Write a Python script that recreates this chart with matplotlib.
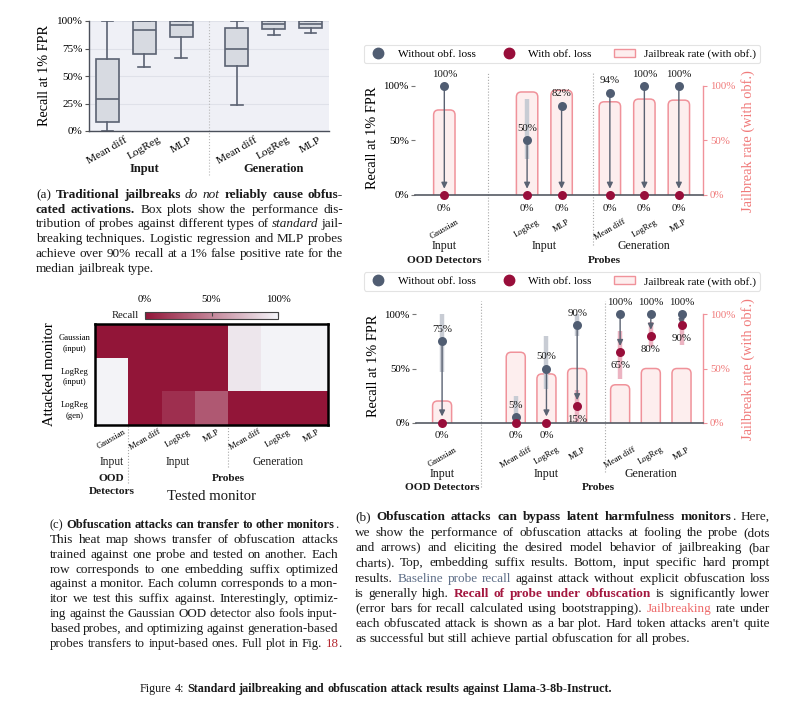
import matplotlib
matplotlib.use('Agg')
import matplotlib.pyplot as plt
import numpy as np
from matplotlib.patches import FancyBboxPatch, Patch
from matplotlib.colors import LinearSegmentedColormap
from matplotlib.lines import Line2D
from matplotlib.font_manager import FontProperties

plt.rcParams['font.family'] = ['Liberation Serif', 'DejaVu Serif']
plt.rcParams['axes.unicode_minus'] = False

W, H = 800, 710
fig = plt.figure(figsize=(W / 100, H / 100), dpi=100)
fig.patch.set_facecolor('white')

# ---------------- data ----------------
box_groups = ['Input', 'Generation']
box_probes = ['Mean diff', 'LogReg', 'MLP']
box_whislo = [0, 58, 66, 23.5, 87, 89.5]
box_q1 = [8, 70, 85, 59, 92.5, 93.5]
box_med = [29, 92, 96, 75, 97, 97]
box_q3 = [65.5, 100, 100, 93.5, 100, 100]
box_whishi = [100, 100, 100, 100, 100, 100]

heat_rows = ['Gaussian\n(input)', 'LogReg\n(input)', 'LogReg\n(gen)']
heat_cols = ['Gaussian', 'Mean diff', 'LogReg', 'MLP', 'Mean diff', 'LogReg', 'MLP']
heat_recall = [[0, 0, 0, 0, 93, 99, 99],
               [99, 0, 0, 0, 93, 99, 99],
               [99, 0, 12, 30, 0, 0, 0]]

panel_groups = [('Input', 'OOD Detectors'), ('Input', 'Probes'), ('Generation', 'Probes')]

top_labels = ['Gaussian', 'LogReg', 'MLP', 'Mean diff', 'LogReg', 'MLP']
top_group_sizes = [1, 2, 3]
top_without = [100, 50, 82, 94, 100, 100]
top_without_lo = [100, 33, 82, 94, 100, 100]
top_without_hi = [100, 88, 82, 94, 100, 100]
top_with = [0, 0, 0, 0, 0, 0]
top_with_lo = [0, 0, 0, 0, 0, 0]
top_with_hi = [0, 0, 0, 0, 0, 0]
top_jailbreak = [78, 94.5, 96, 85.5, 88, 87]

bot_labels = ['Gaussian', 'Mean diff', 'LogReg', 'MLP', 'Mean diff', 'LogReg', 'MLP']
bot_group_sizes = [1, 3, 3]
bot_without = [75, 5, 50, 90, 100, 100, 100]
bot_without_lo = [47, 0, 31, 80, 100, 100, 100]
bot_without_hi = [100, 25, 80, 100, 100, 100, 100]
bot_with = [0, 0, 0, 15, 65, 80, 90]
bot_with_lo = [0, 0, 0, 0, 40, 70, 72]
bot_with_hi = [0, 0, 0, 30, 85, 93, 100]
bot_jailbreak = [20, 65, 45, 50, 35, 50, 50]

# ---------------- styles ----------------
C_GRAY = '#505d72'
C_RED = '#980e3a'
C_ARROW = '#5a6272'
C_BAR_FC = '#fdeeee'
C_BAR_EC = '#f0929a'
C_PINK = '#f07a7a'
C_ERR_G = '#c8ccd4'
C_ERR_R = '#ecb4c2'
C_TXT = '#1a1a1a'
C_DIV = '#a8a8a8'


def fx(x):
    return x / W


def fy(y):
    return 1 - y / H


def axrect(x0, y0, x1, y1):
    return [x0 / W, 1 - y1 / H, (x1 - x0) / W, (y1 - y0) / H]


# ================= (a) box plot =================
axb = fig.add_axes(axrect(89, 21, 329, 131))
axb.set_facecolor('#eff0f6')
bpos = []
for gi, g in enumerate(box_groups):
    for k in range(len(box_probes)):
        bpos.append(gi * 3.5 + k)
stats = [dict(whislo=a, q1=b, med=c, q3=d, whishi=e, fliers=[])
         for a, b, c, d, e in zip(box_whislo, box_q1, box_med, box_q3, box_whishi)]
bc = '#5b6272'
axb.bxp(stats, positions=bpos, widths=0.62, patch_artist=True, showfliers=False,
        capwidths=0.32,
        boxprops=dict(facecolor='#d7dae1', edgecolor=bc, linewidth=1.2),
        medianprops=dict(color=bc, linewidth=1.2),
        whiskerprops=dict(color=bc, linewidth=1.2),
        capprops=dict(color=bc, linewidth=1.2))
axb.set_xlim(-0.5, 6.0)
axb.set_ylim(0, 100)
axb.set_yticks([0, 25, 50, 75, 100])
axb.set_yticklabels([f'{v}%' for v in [0, 25, 50, 75, 100]], fontsize=8)
axb.set_xticks(bpos)
axb.set_xticklabels(box_probes * 2, rotation=30, ha='center', fontsize=8.2)
axb.tick_params(axis='x', length=0, pad=3)
axb.tick_params(axis='y', length=3, color='#555', pad=1.5)
axb.grid(axis='y', color='#dfe1e9', lw=0.8)
axb.set_axisbelow(True)
for s in ['top', 'right']:
    axb.spines[s].set_visible(False)
for s in ['left', 'bottom']:
    axb.spines[s].set_color('#4a4f5a')
    axb.spines[s].set_linewidth(1.0)
axb.set_ylabel('Recall at 1% FPR', fontsize=10.2)
axb.yaxis.set_label_coords(-0.16, 0.5)
trb = axb.get_xaxis_transform()
axb.plot([2.75, 2.75], [-0.4, 1.0], transform=trb, ls=':', color='#b8b8b8', lw=0.8, clip_on=False)
for gi, g in enumerate(box_groups):
    axb.text(gi * 3.5 + 1, -0.345, g, transform=trb, ha='center', va='center',
             fontsize=9, fontweight='bold', color=C_TXT)

# ================= (c) heat map =================
axh = fig.add_axes(axrect(95, 324, 328, 425))
cmap = LinearSegmentedColormap.from_list('recall', ['#921538', '#f4f5f9'])
hv = np.array(heat_recall, dtype=float)
mesh = axh.pcolormesh(np.arange(len(heat_cols) + 1), np.arange(len(heat_rows) + 1), hv,
                      cmap=cmap, vmin=0, vmax=100)
axh.set_xlim(0, len(heat_cols))
axh.set_ylim(len(heat_rows), 0)
axh.set_yticks(np.arange(len(heat_rows)) + 0.5)
axh.set_yticklabels(heat_rows, fontsize=6.2, ha='center', linespacing=1.45)
axh.tick_params(axis='y', length=0, pad=15)
axh.set_xticks(np.arange(len(heat_cols)) + 0.5)
axh.set_xticklabels(heat_cols, rotation=30, ha='center', fontsize=6.2)
axh.tick_params(axis='x', length=0, pad=2)
for s in axh.spines.values():
    s.set_color('black')
    s.set_linewidth(1.8)
axh.set_ylabel('Attacked monitor', fontsize=10.6)
axh.yaxis.set_label_coords(-0.167, 0.5)
trh = axh.get_xaxis_transform()
axh.plot([1, 1], [-0.574, 0], transform=trh, ls=':', color=C_DIV, lw=0.8, clip_on=False)
axh.plot([4, 4], [-0.416, 0], transform=trh, ls=':', color=C_DIV, lw=0.8, clip_on=False)
hgroup_x = [0.5, 2.5, 5.5]
for (g, big), gx in zip(panel_groups, hgroup_x):
    axh.text(gx, -0.363, g, transform=trh, ha='center', va='center', fontsize=8.3, color=C_TXT)
axh.text(0.5, -0.528, 'OOD', transform=trh, ha='center', va='center', fontsize=8.2,
         fontweight='bold', color=C_TXT)
axh.text(0.5, -0.66, 'Detectors', transform=trh, ha='center', va='center', fontsize=8.2,
         fontweight='bold', color=C_TXT)
axh.text(4.0, -0.528, 'Probes', transform=trh, ha='center', va='center', fontsize=8.2,
         fontweight='bold', color=C_TXT)
axh.text(3.5, -0.71, 'Tested monitor', transform=trh, ha='center', va='center',
         fontsize=10.6, color=C_TXT)

cax = fig.add_axes(axrect(145, 312, 278, 319))
cb = fig.colorbar(mesh, cax=cax, orientation='horizontal', ticks=[0, 50, 100])
cax.xaxis.set_ticks_position('top')
cax.set_xticklabels(['0%', '50%', '100%'], fontsize=7.7)
cax.tick_params(direction='in', length=3, width=0.8, pad=6, color='#444')
cb.outline.set_linewidth(0.8)
cb.outline.set_edgecolor('#444')
fig.text(fx(139), fy(315), 'Recall', ha='right', va='center', fontsize=7.7, color=C_TXT)


# ================= (b) recall panels =================
GAPS = [2.4, 1.4]


def recall_panel(rect_px, labels, sizes, without, wlo, whi, withv, clo, chi, jb, leg_px):
    pos = []
    for gi, n in enumerate(sizes):
        start = 0.0 if gi == 0 else pos[-1] + GAPS[gi - 1]
        for k in range(n):
            pos.append(start + k)
    pos = np.array(pos)
    ax = fig.add_axes(axrect(*rect_px))
    ax2 = ax.twinx()
    ax.set_zorder(ax2.get_zorder() + 1)
    ax.patch.set_visible(False)
    xl = (-0.85, pos[-1] + 0.7)
    yl = (0, 112)
    for a in (ax, ax2):
        a.set_xlim(*xl)
        a.set_ylim(*yl)
    wpx = rect_px[2] - rect_px[0]
    hpx = rect_px[3] - rect_px[1]
    px_x = wpx / (xl[1] - xl[0])
    px_y = hpx / (yl[1] - yl[0])
    asp = px_x / px_y
    r = 5.0 / px_x
    bw = 0.62
    for x, h in zip(pos, jb):
        p = FancyBboxPatch((x - bw / 2, -r * asp), bw, h + r * asp,
                           boxstyle=f'round,pad=0,rounding_size={r}',
                           mutation_aspect=asp, facecolor=C_BAR_FC,
                           edgecolor=C_BAR_EC, linewidth=1.1, clip_on=True)
        ax2.add_patch(p)
    for x, lo, hi in zip(pos, wlo, whi):
        if hi > lo:
            ax.plot([x, x], [lo, hi], color=C_ERR_G, lw=3.2, solid_capstyle='butt', zorder=2)
    for x, lo, hi in zip(pos, clo, chi):
        if hi > lo:
            ax.plot([x, x], [lo, hi], color=C_ERR_R, lw=3.2, solid_capstyle='butt', zorder=2)
    for x, a, b in zip(pos, without, withv):
        if a - b > 0.5:
            ax.annotate('', xy=(x, b), xytext=(x, a),
                        arrowprops=dict(arrowstyle='-|>,head_length=0.35,head_width=0.17',
                                        color=C_ARROW, lw=1.0, shrinkA=3.5, shrinkB=4.5),
                        zorder=3)
    ax.scatter(pos, without, s=42, color=C_GRAY, zorder=5, clip_on=False, linewidths=0)
    ax.scatter(pos, withv, s=42, color=C_RED, zorder=6, clip_on=False, linewidths=0)
    for x, v in zip(pos, without):
        ax.annotate(f'{v:g}%', (x, v), xytext=(0, 8.6), textcoords='offset points',
                    ha='center', va='center', fontsize=7.8, color=C_TXT, zorder=7)
    for x, v in zip(pos, withv):
        ax.annotate(f'{v:g}%', (x, v), xytext=(0, -9.4), textcoords='offset points',
                    ha='center', va='center', fontsize=7.8, color=C_TXT, zorder=7,
                    annotation_clip=False)
    for s in ['top', 'left', 'right']:
        ax.spines[s].set_visible(False)
    ax.spines['bottom'].set_color('#555a63')
    ax.spines['bottom'].set_linewidth(1.2)
    for s in ['top', 'left', 'bottom']:
        ax2.spines[s].set_visible(False)
    ax2.spines['right'].set_color(C_BAR_EC)
    ax2.spines['right'].set_linewidth(1.0)
    ax2.spines['right'].set_bounds(0, 100)
    ax.set_yticks([0, 50, 100])
    ax.set_yticklabels(['0%', '50%', '100%'], fontsize=7.8)
    ax.tick_params(axis='y', length=3, color='#777', pad=1.5)
    ax2.set_yticks([0, 50, 100])
    ax2.set_yticklabels(['0%', '50%', '100%'], fontsize=7.8, color=C_PINK)
    ax2.tick_params(axis='y', length=3, color=C_BAR_EC, pad=2)
    ax.set_xticks(pos)
    ax.set_xticklabels(labels, rotation=30, ha='center', fontsize=6.2)
    ax.tick_params(axis='x', length=0, pad=16.5)
    ax.set_ylabel('Recall at 1% FPR', fontsize=10.4)
    ax.yaxis.set_label_coords(-0.124, 0.47)
    ax2.set_ylabel('Jailbreak rate (with obf.)', fontsize=10.4, color=C_PINK)
    ax2.yaxis.set_label_coords(1.132, 0.44)
    tr = ax.get_xaxis_transform()
    first_probe = pos[sizes[0]]
    first_gen = pos[sizes[0] + sizes[1]]
    ax.plot([first_probe - 1.12] * 2, [-0.53, 1.0], transform=tr, ls=':', color=C_DIV,
            lw=0.8, clip_on=False)
    ax.plot([first_gen - 0.48] * 2, [-0.41, 1.0], transform=tr, ls=':', color=C_DIV,
            lw=0.8, clip_on=False)
    idx = 0
    for (g, big), n in zip(panel_groups, sizes):
        gp = pos[idx:idx + n]
        ax.text(gp.mean(), -0.42, g, transform=tr, ha='center', va='center',
                fontsize=8.6, color=C_TXT)
        idx += n
    ax.text(pos[:sizes[0]].mean(), -0.535, 'OOD Detectors', transform=tr, ha='center',
            va='center', fontsize=8.2, fontweight='bold', color=C_TXT)
    ax.text(pos[sizes[0]:].mean(), -0.535, 'Probes', transform=tr, ha='center',
            va='center', fontsize=8.2, fontweight='bold', color=C_TXT)
    handles = [Line2D([], [], marker='o', ls='', color=C_GRAY, markersize=7.5),
               Line2D([], [], marker='o', ls='', color=C_RED, markersize=7.5),
               Patch(facecolor=C_BAR_FC, edgecolor=C_BAR_EC, linewidth=1.0)]
    names = ['Without obf. loss', 'With obf. loss', 'Jailbreak rate (with obf.)']
    lx0, ly0, lx1, ly1 = leg_px
    leg = fig.legend(handles, names, loc='center', ncol=3, mode='expand',
                     bbox_to_anchor=(fx(lx0), fy(ly1), (lx1 - lx0) / W, (ly1 - ly0) / H),
                     fontsize=8.2, frameon=True, borderaxespad=0, handlelength=1.8,
                     handletextpad=0.8, borderpad=0.35, fancybox=True)
    leg.get_frame().set_edgecolor('#dcdcdc')
    leg.get_frame().set_linewidth(0.8)
    return ax


recall_panel((415, 72.9, 703, 195), top_labels, top_group_sizes, top_without,
             top_without_lo, top_without_hi, top_with, top_with_lo, top_with_hi,
             top_jailbreak, (364, 45, 760, 63))
recall_panel((416, 301.3, 703, 422.7), bot_labels, bot_group_sizes, bot_without,
             bot_without_lo, bot_without_hi, bot_with, bot_with_lo, bot_with_hi,
             bot_jailbreak, (364, 272, 760, 291))

# ================= captions (word by word, justified) =================
renderer = fig.canvas.get_renderer()
CAP_FAMILY = 'Liberation Serif'


def fprops(st, size):
    return FontProperties(family=CAP_FAMILY, size=size,
                          weight='bold' if 'b' in st else 'normal',
                          style='italic' if 'i' in st else 'normal')


def adv_width(word, st, size):
    fp = fprops(st, size)
    w1, _, _ = renderer.get_text_width_height_descent('x' + word + 'x', fp, ismath=False)
    w0, _, _ = renderer.get_text_width_height_descent('xx', fp, ismath=False)
    return w1 - w0


def tokenize(segs):
    tokens = []
    pend = False
    for seg in segs:
        text, st = seg[0], seg[1]
        col = seg[2] if len(seg) > 2 else C_TXT
        parts = text.split(' ')
        for k, p in enumerate(parts):
            if k > 0:
                pend = True
            if p:
                tokens.append((p, st, col, pend and len(tokens) > 0))
                pend = False
    return tokens


def draw_para(lines, x0, x1, baseline0, step, size, justify_last=False):
    target = x1 - x0
    for i, segs in enumerate(lines):
        yb = round(baseline0 + i * step)
        justify = (i < len(lines) - 1) or justify_last
        tokens = tokenize(segs)
        ngaps = sum(1 for tk in tokens if tk[3])
        s = size
        for _ in range(4):
            widths = [adv_width(p, st, s) for p, st, col, sp in tokens]
            min_space = 0.2 * s * 100 / 72
            natural = sum(widths) + ngaps * min_space
            if natural <= target + 0.5:
                break
            s = s * target / natural * 0.998
        space = 0.25 * s * 100 / 72
        if justify and ngaps:
            space = (target - sum(widths)) / ngaps
        x = x0
        for (p, st, col, sp), w in zip(tokens, widths):
            if sp:
                x += space
            fig.text(fx(x), fy(yb), p, fontproperties=fprops(st, s), color=col,
                     va='baseline', ha='left')
            x += w


CAP = 9.5
cap_a = [
    [('(a) ', 'n'), ('Traditional jailbreaks ', 'b'), ('do not', 'i'), (' reliably cause obfus-', 'b')],
    [('cated activations.', 'b'), (' Box plots show the performance dis-', 'n')],
    [('tribution of probes against different types of ', 'n'), ('standard', 'i'), (' jail-', 'n')],
    [('breaking techniques. Logistic regression and MLP probes', 'n')],
    [('achieve over 90% recall at a 1% false positive rate for the', 'n')],
    [('median jailbreak type.', 'n')],
]
draw_para(cap_a, 36, 343, 197.8, 14.8, CAP)

cap_c = [
    [('(c) ', 'n'), ('Obfuscation attacks can transfer to other monitors', 'b'), ('.', 'n')],
    [('This heat map shows transfer of obfuscation attacks', 'n')],
    [('trained against one probe and tested on another. Each', 'n')],
    [('row corresponds to one embedding suffix optimized', 'n')],
    [('against a monitor. Each column corresponds to a mon-', 'n')],
    [('itor we test this suffix against.  Interestingly, optimiz-', 'n')],
    [('ing against the Gaussian OOD detector also fools input-', 'n')],
    [('based probes, and optimizing against generation-based', 'n')],
    [('probes transfers to input-based ones. Full plot in Fig. ', 'n'), ('18', 'n', '#b3262e'), ('.', 'n')],
]
draw_para(cap_c, 50, 338, 528.2, 14.8, CAP)

cap_b = [
    [('(b) ', 'n'), ('Obfuscation attacks can bypass latent harmfulness monitors', 'b'), ('.  Here,', 'n')],
    [('we show the performance of obfuscation attacks at fooling the probe (dots', 'n')],
    [('and arrows) and eliciting the desired model behavior of jailbreaking (bar', 'n')],
    [('charts). Top, embedding suffix results. Bottom, input specific hard prompt', 'n')],
    [('results. ', 'n'), ('Baseline probe recall', 'n', '#5f6f88'),
     (' against attack without explicit obfuscation loss', 'n')],
    [('is generally high. ', 'n'), ('Recall of probe under obfuscation', 'b', '#a3173f'),
     (' is significantly lower', 'n')],
    [('(error bars for recall calculated using bootstrapping). ', 'n'),
     ('Jailbreaking', 'n', '#ee6a6a'), (' rate under', 'n')],
    [("each obfuscated attack is shown as a bar plot. Hard token attacks aren't quite", 'n')],
    [('as successful but still achieve partial obfuscation for all probes.', 'n')],
]
draw_para(cap_b, 355, 770, 520.5, 15.25, CAP)

cap_fig = [[('Figure 4: ', 'n'),
            ('Standard jailbreaking and obfuscation attack results against Llama-3-8b-Instruct.', 'b')]]
draw_para(cap_fig, 140, 612, 691.5, 0, CAP, justify_last=True)

fig.savefig('out.png', dpi=100, facecolor='white')
